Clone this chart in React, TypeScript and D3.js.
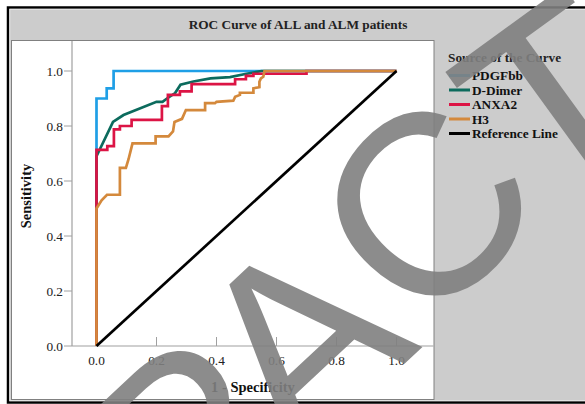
import React, { useRef, useEffect } from 'react';
import * as d3 from 'd3';

const title = 'ROC Curve of ALL and ALM patients';
const ticks = [0, 0.2, 0.4, 0.6, 0.8, 1.0];
const legendTitle = 'Source of the Curve';

// ROC vertices (1 - specificity, sensitivity)
const pdgfbbFpr = [0, 0, 0.034, 0.034, 0.057, 0.057, 1];
const pdgfbbTpr = [0, 0.9, 0.9, 0.937, 0.937, 1, 1];

const dDimerFpr = [0, 0, 0.055, 0.09, 0.2, 0.22, 0.235, 0.262, 0.28, 0.323, 0.38, 0.445, 0.5, 0.55, 1];
const dDimerTpr = [0, 0.69, 0.815, 0.84, 0.888, 0.888, 0.9, 0.92, 0.95, 0.962, 0.973, 0.978, 0.99, 1, 1];

const anxa2Fpr = [0, 0, 0.036, 0.036, 0.058, 0.058, 0.078, 0.078, 0.117, 0.117, 0.218, 0.218, 0.238, 0.238, 0.278, 0.278, 0.317, 0.317, 0.462, 0.462, 0.498, 0.498, 0.523, 0.523, 0.7, 0.7, 1];
const anxa2Tpr = [0, 0.713, 0.713, 0.727, 0.727, 0.788, 0.788, 0.8, 0.8, 0.822, 0.822, 0.872, 0.872, 0.913, 0.913, 0.926, 0.926, 0.952, 0.952, 0.97, 0.97, 0.982, 0.982, 0.99, 0.99, 1, 1];

const h3Fpr = [0, 0, 0.017, 0.035, 0.078, 0.078, 0.098, 0.107, 0.12, 0.197, 0.197, 0.24, 0.255, 0.26, 0.285, 0.298, 0.362, 0.362, 0.395, 0.4, 0.456, 0.462, 0.478, 0.478, 0.523, 0.523, 0.543, 0.543, 0.548, 0.556, 0.56, 1];
const h3Tpr = [0, 0.5, 0.53, 0.55, 0.55, 0.648, 0.648, 0.68, 0.737, 0.737, 0.762, 0.762, 0.78, 0.815, 0.826, 0.858, 0.858, 0.883, 0.883, 0.888, 0.892, 0.906, 0.913, 0.921, 0.921, 0.937, 0.941, 0.961, 0.973, 0.979, 1, 1];

const refFpr = [0, 1];
const refTpr = [0, 1];

const seriesNames = ['PDGFbb', 'D-Dimer', 'ANXA2', 'H3', 'Reference Line'];
const seriesColors = ['#1f9fe6', '#0c6b5d', '#dc1445', '#d4893c', '#000000'];

// watermark word, in pieces
const watermarkParts = ['RETR', 'A', 'C', 'TED'];

export default function App() {
  const svgRef = useRef<SVGSVGElement | null>(null);

  useEffect(() => {
    if (!svgRef.current) return;
    const svg = d3.select(svgRef.current);
    svg.selectAll('*').remove();

    const width = 585;
    const height = 404;
    const serif = '"Liberation Serif", "Times New Roman", serif';

    // background + frame
    svg.append('rect').attr('x', 0).attr('y', 0).attr('width', width).attr('height', height).attr('fill', '#ffffff');
    svg.append('rect').attr('x', 8).attr('y', 7.5).attr('width', 600).attr('height', 395)
      .attr('fill', '#cccccc').attr('stroke', '#000').attr('stroke-width', 2.5);
    svg.append('rect').attr('x', 9.8).attr('y', 9.2).attr('width', 600).attr('height', 391.6)
      .attr('fill', 'none').attr('stroke', '#eeeeee').attr('stroke-width', 0.8);

    svg.append('text').attr('x', 298).attr('y', 28.5).attr('text-anchor', 'middle')
      .attr('font-family', serif).attr('font-weight', 'bold').attr('font-size', 13.3)
      .attr('fill', '#222').text(title);

    // white plot panel
    svg.append('rect').attr('x', 11.5).attr('y', 40.5).attr('width', 422.5).attr('height', 359)
      .attr('fill', '#ffffff').attr('stroke', '#808080').attr('stroke-width', 1);

    const x = d3.scaleLinear().domain([0, 1]).range([96.5, 396.5]);
    const y = d3.scaleLinear().domain([0, 1]).range([346, 71]);
    const axisLeftX = 72;
    const axisColor = '#a0a0a0';

    // axis lines
    svg.append('line').attr('x1', axisLeftX).attr('x2', axisLeftX).attr('y1', 41).attr('y2', y(0))
      .attr('stroke', axisColor).attr('stroke-width', 1.2);
    svg.append('line').attr('x1', axisLeftX).attr('x2', 433.5).attr('y1', y(0)).attr('y2', y(0))
      .attr('stroke', axisColor).attr('stroke-width', 1.2);

    // y ticks (outside)
    const yTicks = svg.append('g');
    ticks.forEach(t => {
      yTicks.append('line').attr('x1', axisLeftX - 8).attr('x2', axisLeftX).attr('y1', y(t)).attr('y2', y(t))
        .attr('stroke', axisColor).attr('stroke-width', 1);
      yTicks.append('text').attr('x', axisLeftX - 9).attr('y', y(t) + 4.5).attr('text-anchor', 'end')
        .attr('font-family', serif).attr('font-size', 13.3).attr('fill', '#222').text(t.toFixed(1));
    });

    // x ticks (inside)
    const xTicks = svg.append('g');
    ticks.forEach(t => {
      xTicks.append('line').attr('x1', x(t)).attr('x2', x(t)).attr('y1', y(0) - 9).attr('y2', y(0))
        .attr('stroke', axisColor).attr('stroke-width', 1);
      xTicks.append('text').attr('x', x(t)).attr('y', y(0) + 18.5).attr('text-anchor', 'middle')
        .attr('font-family', serif).attr('font-size', 13.3).attr('fill', '#222').text(t.toFixed(1));
    });

    svg.append('text').attr('x', 253).attr('y', 392).attr('text-anchor', 'middle')
      .attr('font-family', serif).attr('font-weight', 'bold').attr('font-size', 14.5)
      .attr('fill', '#111').text('1 - Specificity');

    svg.append('text').attr('transform', 'translate(31,196) rotate(-90)').attr('text-anchor', 'middle')
      .attr('font-family', serif).attr('font-weight', 'bold').attr('font-size', 14.5)
      .attr('fill', '#111').text('Sensitivity');

    // curves
    const line = d3.line<[number, number]>().x(d => x(d[0])).y(d => y(d[1]));
    const series: [number[], number[]][] = [
      [pdgfbbFpr, pdgfbbTpr],
      [dDimerFpr, dDimerTpr],
      [anxa2Fpr, anxa2Tpr],
      [h3Fpr, h3Tpr],
      [refFpr, refTpr],
    ];
    series.forEach(([fx, fy], i) => {
      const pts = fx.map((v, j) => [v, fy[j]] as [number, number]);
      svg.append('path').datum(pts).attr('fill', 'none')
        .attr('stroke', seriesColors[i]).attr('stroke-width', 2.7)
        .attr('stroke-linejoin', 'miter').attr('d', line);
    });

    // legend
    const lg = svg.append('g').attr('transform', 'translate(448,0)');
    lg.append('text').attr('x', 0).attr('y', 61.5).attr('font-family', serif).attr('font-weight', 'bold')
      .attr('font-size', 13.3).attr('fill', '#222').text(legendTitle);
    seriesNames.forEach((name, i) => {
      const cy = 75.5 + i * 14.5;
      lg.append('line').attr('x1', 1).attr('x2', 22).attr('y1', cy).attr('y2', cy)
        .attr('stroke', seriesColors[i]).attr('stroke-width', 3);
      lg.append('text').attr('x', 24).attr('y', cy + 4.5).attr('font-family', serif).attr('font-weight', 'bold')
        .attr('font-size', 13.3).attr('fill', '#111').text(name);
    });

    // watermark overlay (word laid on a slight curve, one piece at a time)
    const fs = 258;
    const wm = svg.append('g')
      .attr('font-family', '"Liberation Sans", Arial, sans-serif').attr('font-size', fs)
      .attr('fill', '#808080').attr('opacity', 0.9);
    wm.append('text').attr('transform', 'translate(297,464) rotate(-43)')
      .attr('x', 25).attr('text-anchor', 'end').text(watermarkParts[0]);
    wm.append('text').attr('transform', 'translate(297,464) rotate(-43)')
      .attr('x', 0).attr('text-anchor', 'start').text(watermarkParts[1]);
    wm.append('text').attr('transform', 'translate(427,337) rotate(-47)')
      .attr('x', 0).attr('text-anchor', 'start').text(watermarkParts[2]);
    wm.append('text').attr('transform', 'translate(545,219) rotate(-36)')
      .attr('x', 0).attr('text-anchor', 'start').text(watermarkParts[3]);
  }, []);

  return (
    <div style={{ position: 'absolute', left: 0, top: 0 }}>
      <svg ref={svgRef} width={585} height={404} style={{ display: 'block' }}></svg>
    </div>
  );
}
